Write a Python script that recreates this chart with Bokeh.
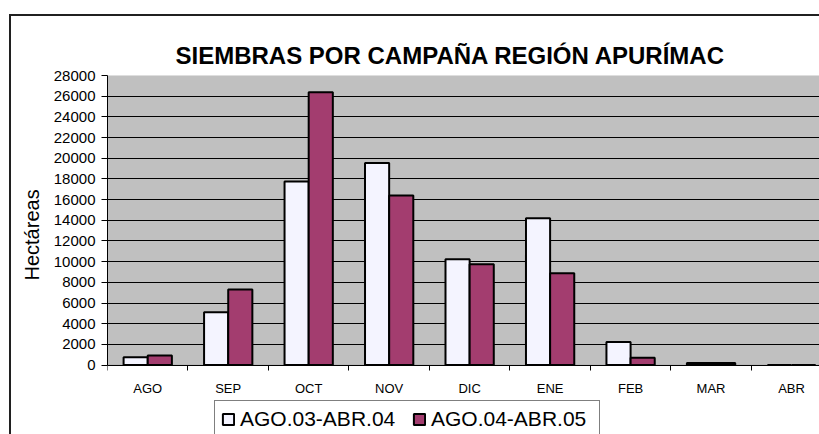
from bokeh.plotting import figure
from bokeh.models import Range1d, FixedTicker, Legend, LegendItem, Title, BoxAnnotation
from bokeh.embed import file_html
from bokeh.resources import INLINE

# ---- data ----
months = ["AGO", "SEP", "OCT", "NOV", "DIC", "ENE", "FEB", "MAR", "ABR"]
series_names = ["AGO.03-ABR.04", "AGO.04-ABR.05"]
campaign_0304 = [750, 5100, 17750, 19550, 10230, 14200, 2230, 200, 0]
campaign_0405 = [940, 7300, 26380, 16400, 9760, 8880, 700, 200, 0]
y_ticks = list(range(0, 28001, 2000))
y_max = 28000
y_title = "Hectáreas"
chart_title = "SIEMBRAS POR CAMPAÑA REGIÓN APURÍMAC"

FONT = "Liberation Sans"
bar_w = 0.3
centers = [i + 0.5 for i in range(len(months))]
x_left = [c - bar_w / 2 for c in centers]
x_right = [c + bar_w / 2 for c in centers]

# frame spans down to canvas bottom; value 0 sits 71px above it (plot area 288px high)
y_start = -y_max * 71 / 288

p = figure(width=810, height=420, output_backend="svg", toolbar_location=None,
           x_range=Range1d(0, 712 / 80.25), y_range=Range1d(y_start, y_max),
           min_border_left=96, min_border_right=0, min_border_top=59,
           min_border_bottom=0)
p.margin = (14, 0, 0, 9)
p.styles = {"border-top": "2px solid #202020", "border-left": "2px solid #202020"}

p.background_fill_color = "white"
p.border_fill_color = "white"
p.outline_line_color = None

plot_area = BoxAnnotation(bottom=0, top=y_max, fill_color="#C0C0C0", fill_alpha=1.0,
                          line_color="#808080", line_width=1, level="image")
p.add_layout(plot_area)

title = Title(text=chart_title, align="left", offset=68,
              text_font=FONT, text_font_size="24px", text_font_style="bold",
              text_color="black", standoff=14)
p.add_layout(title, "above")

ytitle = Title(text=y_title, align="left", offset=156, vertical_align="middle",
               text_font=FONT, text_font_size="20px", text_font_style="normal",
               text_color="black", standoff=14)
p.add_layout(ytitle, "left")

r1 = p.vbar(x=x_left, top=campaign_0304, width=bar_w, bottom=0,
            fill_color="#F4F4FF", line_color="black", line_width=2)
r2 = p.vbar(x=x_right, top=campaign_0405, width=bar_w, bottom=0,
            fill_color="#A33D6F", line_color="black", line_width=2)

# grid
p.xgrid.grid_line_color = None
p.ygrid.ticker = FixedTicker(ticks=y_ticks)
p.ygrid.grid_line_color = "black"
p.ygrid.grid_line_width = 1

# y axis
ya = p.yaxis[0]
ya.ticker = FixedTicker(ticks=y_ticks)
ya.bounds = (0, y_max)
ya.axis_line_color = "black"
ya.major_tick_out = 6
ya.major_tick_in = 0
ya.minor_tick_line_color = None
ya.major_label_text_font = FONT
ya.major_label_text_font_size = "15px"
ya.major_label_text_color = "black"
ya.major_label_standoff = 6

# x axis (drawn at value 0 inside the frame)
xa = p.xaxis[0]
xa.fixed_location = 0
xa.ticker = FixedTicker(ticks=centers, minor_ticks=list(range(0, len(months) + 1)))
xa.major_label_overrides = {c: m for c, m in zip(centers, months)}
xa.axis_line_color = "black"
xa.major_tick_line_color = None
xa.major_tick_out = 0
xa.major_tick_in = 0
xa.minor_tick_line_color = "black"
xa.minor_tick_out = 5
xa.minor_tick_in = 0
xa.major_label_text_font = FONT
xa.major_label_text_font_size = "13px"
xa.major_label_text_color = "black"
xa.major_label_standoff = 11

legend = Legend(items=[LegendItem(label=series_names[0], renderers=[r1]),
                       LegendItem(label=series_names[1], renderers=[r2])],
                orientation="horizontal", location=(107, -2),
                label_text_font=FONT, label_text_font_size="21px",
                label_text_color="black", glyph_width=14, glyph_height=14,
                label_width=162, label_standoff=5, spacing=10, padding=6, margin=0,
                border_line_color="black", border_line_width=1,
                background_fill_color="white", background_fill_alpha=1.0)
p.add_layout(legend, "center")

open("out.html", "w").write(file_html(p, INLINE))
